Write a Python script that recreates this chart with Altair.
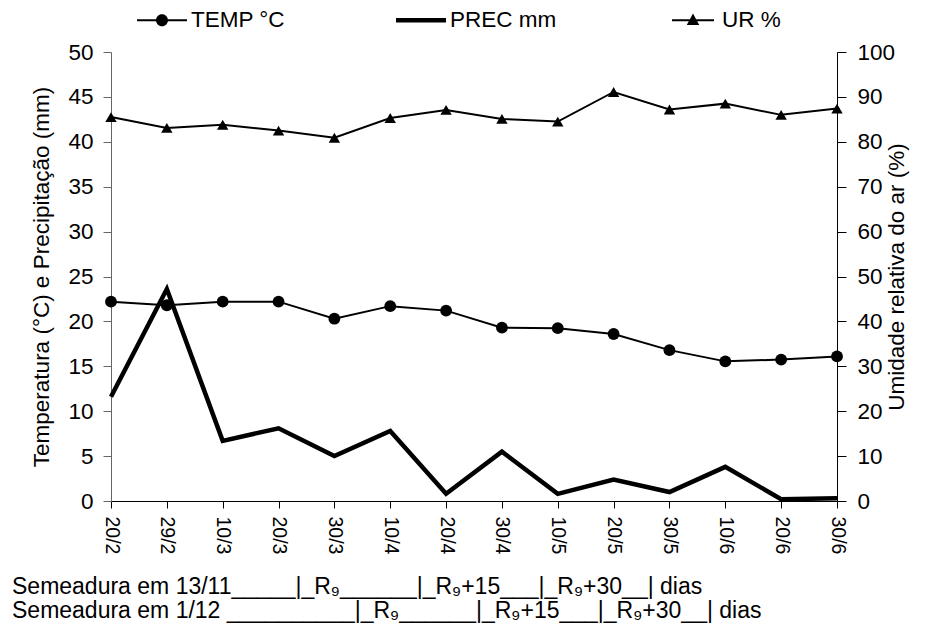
import altair as alt
import pandas as pd

# ---- data ----
dates = ["20/2", "29/2", "10/3", "20/3", "30/3", "10/4", "20/4",
         "30/4", "10/5", "20/5", "30/5", "10/6", "20/6", "30/6"]
temp = [22.2, 21.8, 22.2, 22.2, 20.3, 21.7, 21.2, 19.3, 19.25, 18.6, 16.8, 15.55, 15.75, 16.1]
prec = [11.6, 23.6, 6.7, 8.1, 5.0, 7.8, 0.8, 5.5, 0.8, 2.4, 1.0, 3.8, 0.2, 0.3]
ur = [85.5, 83.1, 83.8, 82.5, 80.9, 85.3, 87.1, 85.1, 84.5, 91.1, 87.2, 88.5, 86.0, 87.4]

series_names = ["TEMP °C", "PREC mm", "UR %"]
left_ticks = list(range(0, 51, 5))
right_ticks = list(range(0, 101, 10))
bottom_lines = [
    "Semeadura em 13/11_____|_R₉______|_R₉+15___|_R₉+30__|  dias",
    "Semeadura em 1/12 __________|_R₉______|_R₉+15___|_R₉+30__|  dias",
]

# legend symbols (line + marker glyphs)
legend_paths = [
    "M-1,-0.04H1V0.04H-1Z M0.24,0A0.24,0.24 0 1,1 -0.24,0A0.24,0.24 0 1,1 0.24,0Z",
    "M-1,-0.09H1V0.09H-1Z",
    "M-0.84,-0.04H0.84V0.04H-0.84Z M0,-0.27L0.25,0.19L-0.25,0.19Z",
]

df = pd.DataFrame({"date": dates, "temp": temp, "prec": prec, "ur": ur})

FONT = "Liberation Sans"

x_enc = alt.X(
    "date:N", sort=dates, scale=alt.Scale(padding=0),
    axis=alt.Axis(title=None, labelAngle=90, labelFontSize=19.5, labelFont=FONT,
                  labelColor="black", tickSize=7, tickColor="black",
                  domainColor="black", labelPadding=8, grid=False),
)

left_axis = alt.Axis(
    title="Temperatura (°C) e Precipitação (mm)", values=left_ticks, grid=False,
    labelFontSize=22.5, labelFont=FONT, labelColor="black", tickSize=8,
    tickColor="#666666", domainColor="#666666", labelPadding=10,
    titleFontSize=22.5, titleFont=FONT, titleFontWeight="normal", titleColor="black",
    titlePadding=14,
)
left_scale = alt.Scale(domain=[0, 50], nice=False)

right_axis = alt.Axis(
    orient="right", title="Umidade relativa do ar (%)", values=right_ticks, grid=False,
    labelFontSize=22.5, labelFont=FONT, labelColor="black", tickSize=9,
    tickColor="black", domainColor="black", labelPadding=11,
    titleFontSize=22.5, titleFont=FONT, titleFontWeight="normal", titleColor="black",
    titlePadding=14, titleAngle=270,
)
right_scale = alt.Scale(domain=[0, 100], nice=False)

base = alt.Chart(df)

temp_line = base.mark_line(color="black", strokeWidth=2).encode(
    x=x_enc, y=alt.Y("temp:Q", scale=left_scale, axis=left_axis))
temp_pts = base.mark_point(filled=True, shape="circle", size=140, color="black", opacity=1).encode(
    x=x_enc, y=alt.Y("temp:Q", scale=left_scale, axis=left_axis))
prec_line = base.mark_line(color="black", strokeWidth=4.5).encode(
    x=x_enc, y=alt.Y("prec:Q", scale=left_scale, axis=left_axis))

legend_layer = base.transform_calculate(s="'TEMP °C'").transform_filter("false").mark_point(
    filled=True, color="black").encode(
    x=x_enc, y=alt.Y("temp:Q", scale=left_scale, axis=left_axis),
    shape=alt.Shape("s:N", scale=alt.Scale(domain=series_names, range=legend_paths),
                    legend=alt.Legend(title=None, orient="none", legendX=26, legendY=-57,
                                      direction="horizontal", symbolSize=2500,
                                      symbolFillColor="black", symbolStrokeColor="black",
                                      symbolStrokeWidth=0, symbolOpacity=1,
                                      labelFontSize=22.5, labelFont=FONT, labelColor="black",
                                      labelOffset=4, columnPadding=111, padding=0,
                                      labelLimit=400)),
)

ur_line = base.mark_line(color="black", strokeWidth=2).encode(
    x=x_enc, y=alt.Y("ur:Q", scale=right_scale, axis=right_axis))
ur_pts = base.mark_point(filled=True, shape="triangle-up", size=130, color="black", opacity=1).encode(
    x=x_enc, y=alt.Y("ur:Q", scale=right_scale, axis=right_axis))

left = alt.layer(temp_line, prec_line, temp_pts, legend_layer)
right = alt.layer(ur_line, ur_pts)

chart = alt.layer(left, right).resolve_scale(y="independent").properties(
    width=726, height=449,
    autosize=alt.AutoSizeParams(type="none"),
    padding={"left": 103, "top": 44, "right": 89, "bottom": 123},
    title=alt.Title(text=bottom_lines, orient="bottom", anchor="start", frame="group",
                    dx=-99, offset=22, fontSize=23, font=FONT, fontWeight="normal",
                    color="black", lineHeight=24, align="left"),
).configure_view(stroke=None)

chart.save("out.html", embed_options={"renderer": "svg", "actions": False})
